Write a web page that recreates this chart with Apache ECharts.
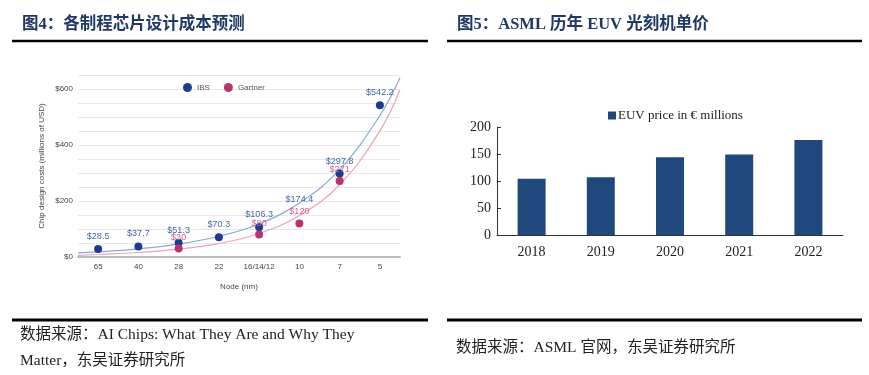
<!doctype html>
<html>
<head>
<meta charset="utf-8">
<title>芯片设计成本 / EUV 单价</title>
<style>
  html, body { margin: 0; padding: 0; background: #fff; }
  #main { width: 869px; height: 375px; }
</style>
</head>
<body>
<div id="main"></div>
<script src="https://cdn.jsdelivr.net/npm/echarts@6/dist/echarts.min.js"></script>
<script>
// ---- left chart: chip design cost by node ----
var nodes = ['65', '40', '28', '22', '16/14/12', '10', '7', '5'];
var ibsCost = [28.5, 37.7, 51.3, 70.3, 106.3, 174.4, 297.8, 542.2];
var gartnerCost = [null, null, 30, null, 80, 120, 271, null];
// trend curves (x = category position)
var trendPos = [-0.5, 0, 1, 2, 3, 4, 5, 6, 7, 7.5];
var ibsTrend = [15, 18, 29, 46, 74, 118, 193, 312, 505, 640];
var gartnerTrend = [6, 9, 16, 28, 48, 84, 148, 258, 450, 597];

// ---- right chart: ASML EUV unit price ----
var years = ['2018', '2019', '2020', '2021', '2022'];
var euvPrice = [104, 107, 144, 149, 176];

var sans = 'Liberation Sans, Arial, sans-serif';
var serif = 'Liberation Serif, Times New Roman, Noto Sans CJK SC, serif';
var titleFont = 'Liberation Serif, Noto Sans CJK SC, serif';

var chart = echarts.init(document.getElementById('main'));

function pairs(xs, ys) {
    return xs.map(function (x, i) { return [x, ys[i]]; });
}

var ibsData = ibsCost.map(function (v, i) {
    // the 10nm IBS marker is hidden behind the Gartner label in the source
    return nodes[i] === '10' ? { value: v, symbolSize: 0 } : v;
});

chart.setOption({
    animation: false,
    legend: [{
        left: 178,
        top: 78,
        itemWidth: 9,
        itemHeight: 9,
        itemGap: 14,
        icon: 'circle',
        textStyle: { fontFamily: sans, fontSize: 8, color: '#555' },
        data: ['IBS', 'Gartner']
    }, {
        left: 603,
        top: 104,
        itemWidth: 8,
        itemHeight: 8,
        itemGap: 2,
        icon: 'rect',
        textStyle: { fontFamily: serif, fontSize: 13, color: '#222', padding: [0, 0, 0, -3] },
        data: ['EUV price in € millions']
    }],
    grid: [
        { left: 78, right: 469, top: 75, bottom: 118 },
        { left: 497, right: 26, top: 127, bottom: 140 }
    ],
    xAxis: [{
        gridIndex: 0,
        type: 'category',
        data: nodes,
        name: 'Node (nm)',
        nameLocation: 'middle',
        nameGap: 26,
        nameTextStyle: { fontFamily: sans, fontSize: 8, color: '#444' },
        axisLine: { lineStyle: { color: '#bdbdbd', width: 2 } },
        axisTick: { show: false },
        axisLabel: { interval: 0, fontFamily: sans, fontSize: 8, color: '#444', margin: 6 }
    }, {
        gridIndex: 0,
        type: 'value',
        min: -0.5,
        max: 7.5,
        show: false
    }, {
        gridIndex: 1,
        type: 'category',
        data: years,
        axisLine: { lineStyle: { color: '#333', width: 1 } },
        axisTick: { inside: true, length: 4, lineStyle: { color: '#333' } },
        axisLabel: { fontFamily: serif, fontSize: 14, color: '#222', margin: 10 }
    }],
    yAxis: [{
        gridIndex: 0,
        type: 'value',
        min: 0,
        max: 650,
        interval: 50,
        name: 'Chip design costs (millions of USD)',
        nameLocation: 'middle',
        nameRotate: 90,
        nameGap: 32,
        nameTextStyle: { fontFamily: sans, fontSize: 8, color: '#444' },
        axisLine: { show: false },
        axisTick: { show: false },
        splitLine: { lineStyle: { color: '#e8e8e8' } },
        axisLabel: {
            fontFamily: sans, fontSize: 8, color: '#444', margin: 5,
            formatter: function (v) { return v % 200 === 0 ? '$' + v : ''; }
        }
    }, {
        gridIndex: 1,
        type: 'value',
        min: 0,
        max: 200,
        interval: 50,
        axisLine: { show: true, lineStyle: { color: '#333', width: 1 } },
        axisTick: { show: true, inside: true, length: 4, lineStyle: { color: '#333' } },
        splitLine: { show: false },
        axisLabel: { fontFamily: serif, fontSize: 14, color: '#222', margin: 6 }
    }],
    series: [{
        name: 'IBS trend',
        type: 'line',
        xAxisIndex: 1,
        yAxisIndex: 0,
        data: pairs(trendPos, ibsTrend),
        smooth: 0.4,
        showSymbol: false,
        silent: true,
        lineStyle: { color: '#86a9d6', width: 1.2 },
        z: 1
    }, {
        name: 'Gartner trend',
        type: 'line',
        xAxisIndex: 1,
        yAxisIndex: 0,
        data: pairs(trendPos, gartnerTrend),
        smooth: 0.4,
        showSymbol: false,
        silent: true,
        lineStyle: { color: '#eba3bd', width: 1.2 },
        z: 1
    }, {
        name: 'IBS',
        type: 'scatter',
        xAxisIndex: 0,
        yAxisIndex: 0,
        data: ibsData,
        symbolSize: 8,
        itemStyle: { color: '#1a3d92', opacity: 1 },
        label: {
            show: true,
            position: 'top',
            distance: 4,
            fontFamily: sans,
            fontSize: 9,
            color: '#4465ad',
            formatter: function (p) { return '$' + p.value; }
        },
        z: 3
    }, {
        name: 'Gartner',
        type: 'scatter',
        xAxisIndex: 0,
        yAxisIndex: 0,
        data: gartnerCost,
        symbolSize: 8,
        itemStyle: { color: '#b8356b', opacity: 1 },
        label: {
            show: true,
            position: 'top',
            distance: 3,
            fontFamily: sans,
            fontSize: 9,
            color: '#d2628d',
            formatter: function (p) { return '$' + p.value; }
        },
        z: 4
    }, {
        name: 'EUV price in € millions',
        type: 'bar',
        xAxisIndex: 2,
        yAxisIndex: 1,
        data: euvPrice,
        barWidth: 28,
        itemStyle: { color: '#1f487c' }
    }],
    graphic: [
        { type: 'text', x: 22, y: 25, style: { text: '图4：各制程芯片设计成本预测', font: 'bold 16.5px ' + titleFont, fill: '#1f3864', verticalAlign: 'middle' } },
        { type: 'text', x: 457, y: 25, style: { text: '图5：ASML 历年 EUV 光刻机单价', font: 'bold 16.5px ' + titleFont, fill: '#1f3864', verticalAlign: 'middle' } },
        { type: 'line', shape: { x1: 12, y1: 41, x2: 428, y2: 41 }, style: { stroke: '#000', lineWidth: 2.5 } },
        { type: 'line', shape: { x1: 447, y1: 41, x2: 862, y2: 41 }, style: { stroke: '#000', lineWidth: 2.5 } },
        { type: 'line', shape: { x1: 12, y1: 320, x2: 428, y2: 320 }, style: { stroke: '#000', lineWidth: 3 } },
        { type: 'line', shape: { x1: 447, y1: 320, x2: 862, y2: 320 }, style: { stroke: '#000', lineWidth: 3 } },
        { type: 'text', x: 20, y: 335, style: { text: '数据来源：AI Chips: What They Are and Why They', font: '15.5px ' + serif, fill: '#222', verticalAlign: 'middle' } },
        { type: 'text', x: 20, y: 361, style: { text: 'Matter，东吴证券研究所', font: '15.5px ' + serif, fill: '#222', verticalAlign: 'middle' } },
        { type: 'text', x: 456, y: 348, style: { text: '数据来源：ASML 官网，东吴证券研究所', font: '15.5px ' + serif, fill: '#222', verticalAlign: 'middle' } }
    ]
});

window.addEventListener('resize', function () {
    chart.resize();
});
</script>
</body>
</html>
